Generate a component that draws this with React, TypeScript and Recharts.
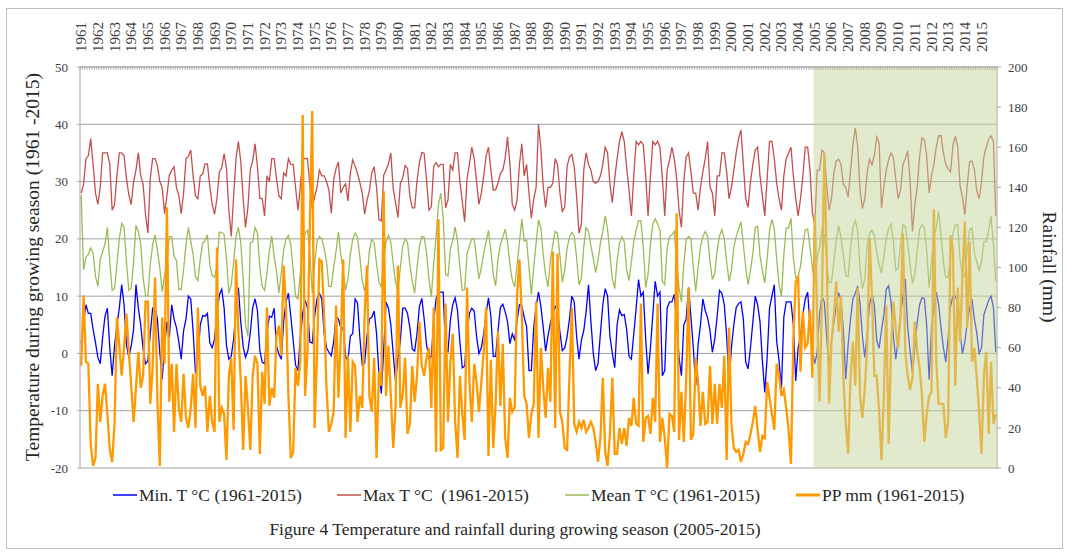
import { LineChart, Line, XAxis, YAxis, CartesianGrid, ReferenceArea, Legend } from 'recharts'

// Growing season: 7 monthly values per year, 1961-2015
const years = [
  1961, 1962, 1963, 1964, 1965, 1966, 1967, 1968, 1969, 1970,
  1971, 1972, 1973, 1974, 1975, 1976, 1977, 1978, 1979, 1980,
  1981, 1982, 1983, 1984, 1985, 1986, 1987, 1988, 1989, 1990,
  1991, 1992, 1993, 1994, 1995, 1996, 1997, 1998, 1999, 2000,
  2001, 2002, 2003, 2004, 2005, 2006, 2007, 2008, 2009, 2010,
  2011, 2012, 2013, 2014, 2015,
]
const seasonMonths = 7

const minT = [
  1.8, 5.5, 8.5, 7, 7, 4.2, 1.9,
  -0.7, -1.8, 2.8, 6.5, 7.9, 1, -3.9,
  1.3, 5, 7.9, 12, 8.5, 1.5, -0.7,
  1.3, 4.2, 12, 7.9, 5, 0.7, -1.8,
  -1.3, 3.4, 7.9, 7.9, 6, 0.2, -4.5,
  1.2, 5.5, 2.8, 8.5, 6, 4.5, 2,
  -1, 4, 6, 10, 9.5, 3.8, -3.5,
  -0.8, 5, 6.6, 6.5, 7, 1.8, 1,
  2.5, 7, 10.2, 11.2, 8, 1.4, -1,
  -0.5, 2.5, 7.8, 11.5, 5.5, 1.2, -0.7,
  0.5, 3.6, 8, 9.5, 7.5, 0.5, -1.5,
  -1.8, 3.7, 6.5, 6.3, 7.9, 1.3, -0.1,
  -1, 5.6, 9, 10.5, 6.5, 2.3, -2,
  -3, 2.8, 7, 9.3, 8, 2, 1.8,
  6.5, 9.5, 10.5, 9.5, 3.5, 1, 0.2,
  -0.4, 2, 6.4, 6, 4.5, 4.4, -0.5,
  -1.3, 3, 3.5, 9.5, 8.8, 2.8, -2,
  -1.7, 3, 6, 6.3, 7.4, 3.5, -3.5,
  -7, 0.5, 9, 7.9, 5, 0, -5,
  -0.7, 2.2, 7.9, 7.9, 7, 4.5, 0.8,
  0.4, 3.5, 8.2, 9.6, 6, 1.5, -0.9,
  -0.5, 5.5, 9.5, 10.7, 10.7, 10.7, 0.5,
  0.3, 5.8, 8.5, 9.7, 7.5, 2, -2.5,
  -2.2, 3.5, 7, 7.9, 7.4, 3, 0,
  1, 3.5, 7, 9.7, 6.5, -0.5, -0.5,
  4, 8, 8.6, 7.3, 5.5, 1.7, 3.4,
  2.4, 5.7, 8.5, 8.3, 6.3, 4.7, -3,
  -3, 4.5, 8.2, 10.7, 8.2, 4.5, 0.4,
  3.1, 5.3, 7, 8.2, 7.4, 3.7, 0.5,
  0.9, 2.9, 6, 10, 9, 3, -1,
  2.3, 4, 7.3, 12, 5.6, 0, -3,
  -1.8, 3.5, 8.5, 11.3, 10, 3, 0,
  -2.5, 5, 7.6, 6.6, 6.8, 4.2, -0.5,
  -1, 3.4, 7.9, 12.9, 10, 10.7, 2.5,
  -3.6, 1, 6.8, 12.6, 10, 10.7, -3.9,
  -3, 7.9, 9, 9, 10.3, 5.6, -0.7,
  -3.9, 5, 6, 11.5, 6.3, 1, -5.6,
  1.5, 5, 9.5, 7.5, 6.2, 4, 0.2,
  2.5, 6.5, 11, 10.5, 8.5, 3, -5.4,
  1, 5, 8, 8.7, 9, 6, -1.5,
  -2.7, 1, 5.5, 10, 8.5, 5.5, -1.3,
  -6.8, -0.7, 7.9, 10, 12, 2.2, -1.3,
  -6.2, 6.3, 9, 9, 9, 5, -4.8,
  1, 2.8, 6.8, 9.5, 10.7, 5, 0.5,
  -1.8, 0.2, 6.8, 10, 9, 2.8, -3,
  2, 5.4, 8.3, 10.6, 9.3, 4, -4.5,
  1.5, 6, 9.5, 10.5, 11.8, 8.7, 3,
  -0.7, 3.3, 8.5, 10.4, 8.5, 2.3, 0.9,
  4, 6.7, 11.2, 11.8, 9, 3, -1,
  2.4, 6.8, 10, 13, 4.6, 0.5, -3.3,
  1, 5.4, 8.5, 9.7, 9.6, 4.8, -4.6,
  4.5, 7.9, 10.7, 8.5, 4.5, 1, -1.5,
  2.8, 8.2, 10, 10, 9, 3.6, 0,
  2, 5.4, 7.9, 9.5, 6, 3.6, 0,
  1, 6.8, 8, 9.3, 10, 8, 0.2,
]

const maxT = [
  28, 29.5, 34, 34.5, 37.5, 33, 28,
  26, 29, 35, 35, 35, 33, 25,
  26, 31, 35, 35, 34.5, 30.5, 27.7,
  26, 30, 32, 35, 31, 29.5, 24.3,
  21, 30.5, 34, 34, 32.8, 30, 29,
  24.4, 27.6, 31.1, 32, 32.6, 28.9, 27.6,
  24.4, 28, 34, 34.4, 35.5, 31, 27.5,
  27, 31, 31.3, 33.1, 33.1, 29.2, 26,
  24.3, 27, 31.7, 32.4, 34.9, 32.3, 25,
  20.4, 27.4, 34, 37, 33.5, 27, 22,
  25.5, 32.1, 33.6, 36.6, 32.6, 27.1, 27,
  24, 31, 30, 34, 34, 30.5, 27.5,
  27, 31.5, 31, 34, 33, 33, 29,
  25, 29, 34, 34, 34, 29.5, 25.3,
  27.3, 29, 32, 31, 31, 30, 28.5,
  24.5, 30.3, 32.3, 33.4, 28, 29, 29.6,
  26.6, 31.5, 33.8, 32.7, 31.4, 29.8, 28,
  24.3, 26.7, 28.4, 31.5, 32.6, 29, 23.4,
  23.1, 31.1, 32, 33.1, 35, 28.7, 26.3,
  23.7, 29.7, 30.6, 32.8, 32.3, 27.4, 25.4,
  25.4, 30.1, 33.3, 35.1, 34.9, 30.3, 25,
  25.6, 32.7, 33.3, 32.6, 33, 33, 25.4,
  26.8, 33, 32, 35, 35, 30, 26.5,
  23, 30.5, 33, 36, 34, 30, 26,
  28, 31, 34.5, 36, 32, 28.5, 28.6,
  29.7, 31.4, 32, 34, 37.8, 33, 26,
  25, 26.7, 33, 36.6, 31, 33, 28,
  23.6, 27, 29, 40, 35.8, 29, 25.5,
  29, 29, 29.7, 34, 33, 28, 24.8,
  25.5, 32.6, 34.3, 34.7, 32.6, 27.5, 21,
  22.5, 32, 35, 33, 32, 30, 29.7,
  30, 31, 33, 36, 35, 29.5, 26.3,
  30.5, 34, 37, 38.7, 37, 32.5, 28.6,
  24, 31, 37, 36.4, 37, 36.4, 31,
  24, 31, 37, 36.4, 37, 36, 30.6,
  24, 32, 33.7, 36, 34, 30.6, 25,
  22, 30, 34.3, 35, 31.7, 28, 28,
  25, 29, 31.7, 34, 37, 29, 28,
  24, 31, 31, 35, 35, 31.7, 27,
  29, 32, 35, 37.5, 39, 33, 27,
  25.5, 30, 33, 35.5, 36, 31, 27.5,
  24, 30.6, 37, 37, 34, 29.7, 27,
  25, 31, 34, 35, 36, 31, 27,
  24, 27, 31, 36, 36, 32, 24.5,
  22.5, 32, 32, 35.5, 35, 29.4, 25,
  27, 31.4, 33.6, 33.9, 33, 29.5, 29,
  27.3, 31.8, 36.4, 39.4, 36.2, 28.5, 25.3,
  27, 31.6, 33.9, 32.9, 34.6, 37.8, 36.8,
  25.4, 29, 32, 33.8, 35, 34.2, 30.4,
  27, 28.5, 33, 34, 35.4, 30.3, 21.3,
  26, 29, 34.3, 37.6, 37.3, 34.4, 28,
  31, 33, 36, 38, 38, 35, 33,
  32.2, 31.7, 36.3, 37.9, 36.1, 29.3, 27.3,
  24.2, 29.3, 33.5, 33.6, 32.1, 28.4, 27,
  30, 34.4, 36, 37.4, 38, 37, 24,
]

const meanT = [
  27.7, 14.6, 16.8, 17.3, 18.4, 17.5, 13.5,
  11.7, 16.4, 17.8, 19.1, 22, 16, 11,
  11.4, 15.5, 20, 22.7, 22, 16, 11,
  11.4, 16, 22.4, 21.3, 19, 13.3, 10.1,
  10, 15.5, 19, 20.7, 18, 15, 10.8,
  13.5, 16, 20.4, 20.4, 17, 16.2, 11.2,
  11.2, 14.7, 19, 22, 19.6, 17.2, 13.4,
  12.7, 16.5, 19.3, 19.6, 20.7, 15.5, 13.6,
  13.3, 15.3, 21.2, 21.1, 20.8, 16.5, 10.5,
  12, 16, 20.4, 22, 19.4, 13, 5,
  3, 19.3, 19.5, 22, 21, 15, 11.7,
  11, 14, 18, 20.5, 17, 14.3, 10.5,
  14, 18, 20, 20.6, 19, 14.5, 10,
  9.5, 14, 18.4, 21, 21.5, 17.5, 10.5,
  15.5, 19.5, 20.4, 20, 18.4, 16, 11.7,
  11.7, 15, 17.8, 21.2, 17.2, 14.5, 11,
  13, 17.3, 19.9, 21, 20.3, 16.8, 12.7,
  10.9, 12.8, 18, 19.9, 19.3, 15.7, 12.5,
  11.5, 16.7, 19.5, 20.6, 19.4, 15.7, 12.4,
  11, 15, 18.7, 20, 19.4, 15.4, 12.6,
  10.5, 15, 18.7, 20.4, 20.3, 17.5, 13,
  9.8, 15.8, 20.4, 26, 28, 23.6, 13.8,
  13.5, 18.2, 19.8, 22.1, 19.6, 15, 11,
  11.1, 17.4, 18.8, 20, 20, 16.5, 13,
  15, 17.5, 19.5, 21.5, 18, 13.8, 11.8,
  16.5, 19, 20.3, 21.7, 19.4, 15.5, 12.8,
  11.6, 15.4, 19.4, 23.5, 19.6, 19.8, 15,
  10.3, 15, 19.3, 23.3, 21.9, 17.2, 13.6,
  11.6, 16.3, 19, 21.3, 21, 17, 12.4,
  14.5, 18.4, 20.3, 21.1, 20.5, 16.7, 12,
  13.1, 18.6, 22, 21.3, 18.8, 16.6, 14.1,
  16.3, 19.3, 21.3, 24, 21.7, 17.2, 13,
  11.3, 16.2, 19.2, 20.3, 19.5, 14.5, 12.7,
  16, 19.5, 21.5, 23.2, 23.2, 18.5, 11.5,
  13.8, 19, 22.6, 23.5, 22.6, 21.5, 12.6,
  12, 18.4, 20.4, 20.7, 21.3, 16, 11.5,
  9, 15.5, 19.9, 20.4, 20, 15, 10.8,
  15, 18.6, 20.4, 21.3, 20.5, 16, 12.9,
  14, 18, 20.5, 21.6, 20, 16, 12.6,
  14.5, 18.5, 20.4, 21.7, 23, 19, 15,
  12, 14.5, 17.5, 22, 22.2, 17, 14.5,
  12.3, 16.5, 21.5, 23.4, 21.7, 16.5, 12,
  10, 17.2, 21.9, 21.9, 23.6, 16.7, 13.2,
  13.5, 15.2, 18.8, 21.6, 21.7, 18.5, 15,
  12, 16.7, 18.4, 21.6, 20.7, 16, 12.3,
  12.5, 16, 19.8, 22.3, 20.3, 17.1, 13.6,
  13.4, 18.5, 22, 23.2, 21.5, 14.8, 11.3,
  13, 19, 21, 21.5, 20.6, 17.7, 15.5,
  14, 17, 20, 21.8, 22.6, 19.5, 14.5,
  14.8, 19, 22.5, 22.2, 19.2, 15.5, 12.2,
  13.8, 18, 21.7, 22.5, 21.9, 17.9, 11.5,
  16, 20.7, 21.9, 24.8, 20.7, 16, 13.2,
  13.3, 17.6, 20.9, 22.4, 22.5, 16.3, 13.6,
  13.5, 18, 21.6, 21.9, 17.5, 16, 14.5,
  16, 19.5, 19.5, 21.5, 24, 19, 12.6,
]

const pp = [
  51, 86, 53, 52, 12, 1, 5,
  42, 23, 36, 42, 27, 9, 3,
  22, 75, 61, 46, 60, 77, 58,
  41, 23, 40, 58, 40, 46, 83,
  83, 32, 50, 95, 33, 1, 75,
  52, 130, 33, 52, 18, 52, 30,
  23, 47, 25, 20, 30, 47, 20,
  80, 41, 36, 41, 18, 36, 23,
  18, 110, 23, 30, 27, 4, 46,
  55, 19, 104, 68, 43, 9, 46,
  30, 9, 46, 56, 52, 7, 48,
  32, 80, 31, 40, 35, 66, 71,
  56, 101, 80, 36, 5, 8, 50,
  41, 53, 176, 36, 58, 121, 178,
  20, 56, 104, 103, 76, 40, 18,
  22, 28, 81, 35, 65, 104, 15,
  56, 18, 53, 51, 23, 36, 30,
  76, 101, 36, 28, 55, 5, 48,
  41, 138, 36, 61, 36, 10, 31,
  101, 30, 37, 55, 17, 22, 51,
  33, 46, 73, 51, 46, 55, 60,
  30, 80, 8, 124, 9, 10, 82,
  23, 53, 67, 23, 5, 46, 27,
  14, 90, 43, 23, 52, 43, 28,
  43, 58, 80, 6, 54, 10, 32,
  68, 31, 62, 15, 5, 35, 28,
  30, 86, 104, 76, 36, 32, 15,
  27, 32, 83, 15, 60, 40, 25,
  50, 33, 108, 20, 107, 28, 23,
  10, 9, 46, 80, 22, 18, 23,
  20, 24, 18, 20, 23, 20, 13,
  3, 15, 45, 8, 1, 17, 45,
  7, 7, 20, 12, 20, 11, 25,
  21, 35, 22, 21, 82, 13, 25,
  26, 17, 35, 23, 82, 13, 25,
  15, 0, 27, 26, 18, 127, 14,
  38, 13, 44, 90, 14, 17, 55,
  43, 21, 38, 22, 23, 51, 22,
  42, 22, 42, 30, 56, 4, 70,
  22, 10, 8, 9, 3, 7, 13,
  12, 17, 23, 31, 19, 8, 16,
  15, 43, 35, 27, 19, 52, 46,
  36, 39, 30, 19, 2, 65, 93,
  95, 48, 78, 60, 62, 79, 45,
  126, 76, 33, 83, 157, 106, 32,
  63, 76, 93, 68, 86, 45, 22,
  7, 45, 63, 41, 90, 36, 25,
  40, 60, 115, 86, 46, 46, 28,
  4, 36, 81, 12, 60, 83, 69,
  60, 76, 117, 58, 46, 39, 45,
  73, 58, 50, 36, 13, 27, 36,
  38, 129, 53, 32, 32, 32, 15,
  23, 116, 109, 41, 90, 63, 96,
  123, 70, 113, 53, 60, 45, 28,
  7, 46, 58, 17, 53, 22, 27,
]

const tempTicks = [-20, -10, 0, 10, 20, 30, 40, 50]
const rainTicks = [0, 20, 40, 60, 80, 100, 120, 140, 160, 180, 200]
const highlightStartYear = 2005

const series = [
  { key: 'minT', name: 'Min. T °C (1961-2015)', color: '#0000ff', width: 1.3, axis: 't' },
  { key: 'maxT', name: 'Max T °C  (1961-2015)', color: '#c0504d', width: 1.3, axis: 't' },
  { key: 'meanT', name: 'Mean T °C (1961-2015)', color: '#9bbb59', width: 1.3, axis: 't' },
  { key: 'pp', name: 'PP mm (1961-2015)', color: '#ff9900', width: 2.3, axis: 'pp' },
]

const rows = minT.map((v, i) => ({ i, minT: v, maxT: maxT[i], meanT: meanT[i], pp: pp[i] }))
const N = rows.length
const allIdx = rows.map((r) => r.i)

const W = 1068
const H = 552
const PLOT_L = 80
const PLOT_R = 997
const PLOT_T = 67
const halfStep = (PLOT_R - PLOT_L) / N / 2
const serif = '"Liberation Serif", "Times New Roman", Times, serif'
const textColor = '#404040'
const axisGray = '#a6a6a6'

function TopTick(props: any) {
  const { x, payload } = props
  const v = payload.value
  const lx = x + 5
  const ly = PLOT_T - 15
  return (
    <g>
      <line x1={x - halfStep} x2={x - halfStep} y1={PLOT_T} y2={PLOT_T + 3} stroke={axisGray} strokeWidth={0.8} />
      {v === N - 1 && <line x1={x + halfStep} x2={x + halfStep} y1={PLOT_T} y2={PLOT_T + 3} stroke={axisGray} strokeWidth={0.8} />}
      {v % seasonMonths === 0 && (
        <text x={lx} y={ly} transform={`rotate(-90, ${lx}, ${ly})`} fontSize={15} fontFamily={serif} fill={textColor}>
          {years[v / seasonMonths]}
        </text>
      )}
    </g>
  )
}

// legend entries sit where the original figure puts them
const legendX = [113, 337, 565, 796]

function FigureOverlay() {
  return (
    <svg width={W} height={H} style={{ display: 'block', pointerEvents: 'none' }}>
      <text x={38.5} y={267} transform="rotate(-90, 38.5, 267)" textAnchor="middle" fontSize={19.5} fontFamily={serif} fill="#262626">
        Temperature during growing season (1961 -2015)
      </text>
      <text x={1043} y={267} transform="rotate(90, 1043, 267)" textAnchor="middle" fontSize={19.5} fontFamily={serif} fill="#262626">
        Rainfall (mm)
      </text>
      {series.map((s, k) => (
        <g key={s.key}>
          <line x1={legendX[k]} x2={legendX[k] + 24} y1={495} y2={495} stroke={s.color} strokeWidth={k === 3 ? 3 : 1.5} />
          <text x={legendX[k] + 26} y={501} fontSize={17.5} fontFamily={serif} fill="#262626" style={{ whiteSpace: 'pre' }}>
            {s.name}
          </text>
        </g>
      ))}
      <text x={515} y={535} textAnchor="middle" fontSize={17.5} fontFamily={serif} fill="#262626">
        Figure 4 Temperature and rainfall during growing season (2005-2015)
      </text>
    </svg>
  )
}

export default function App() {
  const shadeFrom = (highlightStartYear - years[0]) * seasonMonths - 0.5
  return (
    <div style={{ position: 'absolute', left: 0, top: 0, width: W, height: H, background: '#fff', fontFamily: serif }}>
      <div style={{ position: 'absolute', left: 6, top: 8, width: 1055, height: 539, border: '1px solid #bfbfbf' }} />
      <LineChart width={W} height={H} data={rows} margin={{ top: 7, right: 21, bottom: 84, left: 30 }}>
        <XAxis
          xAxisId="x"
          type="number"
          dataKey="i"
          orientation="top"
          domain={[-0.5, N - 0.5]}
          ticks={allIdx}
          interval={0}
          height={60}
          tick={TopTick}
          tickLine={false}
          tickSize={0}
          tickMargin={0}
          axisLine={{ stroke: axisGray }}
        />
        <YAxis
          yAxisId="t"
          domain={[-20, 50]}
          ticks={tempTicks}
          width={50}
          tickSize={3}
          tickMargin={9}
          axisLine={{ stroke: axisGray }}
          tickLine={{ stroke: axisGray }}
          tick={{ fontSize: 13, fill: textColor, fontFamily: serif }}
        />
        <YAxis
          yAxisId="pp"
          orientation="right"
          domain={[0, 200]}
          ticks={rainTicks}
          width={50}
          tickSize={4}
          tickMargin={7}
          axisLine={{ stroke: axisGray }}
          tickLine={{ stroke: axisGray }}
          tick={{ fontSize: 13, fill: textColor, fontFamily: serif, textAnchor: 'start' }}
        />
        <CartesianGrid xAxisId="x" yAxisId="t" vertical={false} stroke="#a0a0a0" />
        {series.map((s) => (
          <Line
            key={s.key}
            xAxisId="x"
            yAxisId={s.axis}
            type="linear"
            dataKey={s.key}
            name={s.name}
            stroke={s.color}
            strokeWidth={s.width}
            dot={false}
            isAnimationActive={false}
          />
        ))}
        <ReferenceArea
          xAxisId="x"
          yAxisId="t"
          x1={shadeFrom}
          x2={N - 0.5}
          y1={-20}
          y2={50}
          fill="#c3d69b"
          fillOpacity={0.5}
          stroke="none"
          zIndex={1000}
        />
        <Legend
          layout="horizontal"
          verticalAlign="middle"
          align="center"
          content={FigureOverlay}
          wrapperStyle={{ left: 0, top: 0, width: W, height: H, pointerEvents: 'none' }}
        />
      </LineChart>
    </div>
  )
}
